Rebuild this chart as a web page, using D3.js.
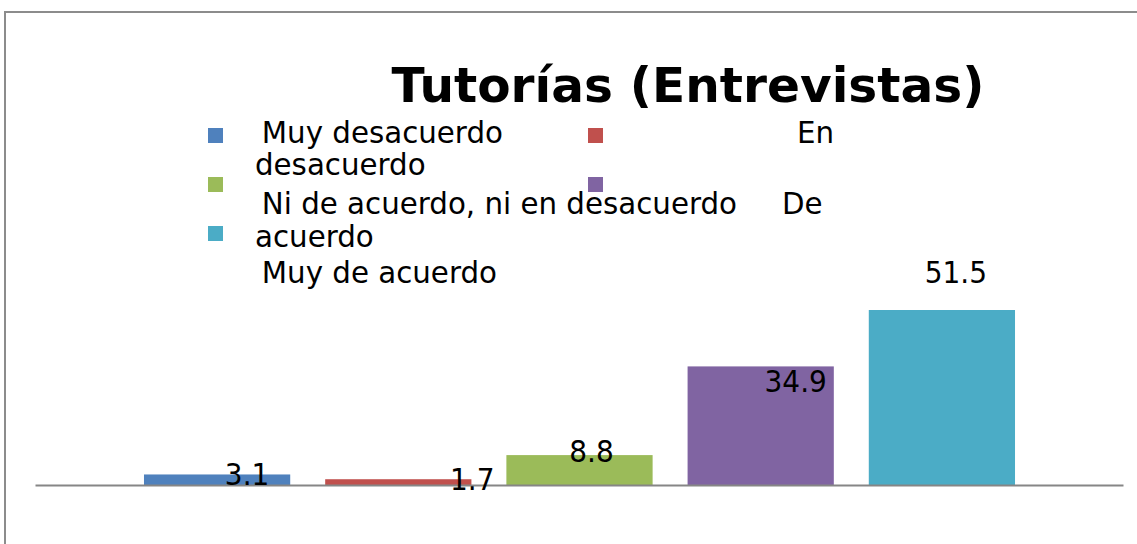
<!DOCTYPE html>
<html>
<head>
<meta charset="utf-8">
<script src="https://cdn.jsdelivr.net/npm/d3@7"></script>
<style>
  body { margin: 0; background: #fff; }
  text { font-family: "DejaVu Sans", sans-serif; }
</style>
</head>
<body>
<svg id="viewer" width="1137" height="544"></svg>
<script>
var categories = ["Muy desacuerdo", "En desacuerdo", "Ni de acuerdo, ni en desacuerdo", "De acuerdo", "Muy de acuerdo"];
var values = [3.1, 1.7, 8.8, 34.9, 51.5];
var colors = ["#4f81bd", "#c0504d", "#9bbb59", "#8064a2", "#4bacc6"];
var title = "Tutorías (Entrevistas)";

// the legend text wraps oddly in the original, keep its lines as they appear
var legendLines = [
    [" Muy desacuerdo", "En"],
    ["desacuerdo", ""],
    [" Ni de acuerdo, ni en desacuerdo", "De"],
    ["acuerdo", ""],
    [" Muy de acuerdo", ""]
];

var svg = d3.select('#viewer');
var baseY = 485;

// outer frame (only top and left edges visible)
svg.append('rect')
    .attr('x', 5).attr('y', 12)
    .attr('width', 1160).attr('height', 560)
    .attr('fill', 'none')
    .attr('stroke', '#8c8c8c')
    .attr('stroke-width', 2);

svg.append('text')
    .attr('x', 688).attr('y', 102)
    .attr('text-anchor', 'middle')
    .attr('font-size', 48.6)
    .attr('font-weight', 'bold')
    .text(title);

var x = d3.scaleBand()
    .domain(categories)
    .range([126.5, 1032.5])
    .paddingInner(0.193)
    .paddingOuter(0.0965);

var y = d3.scaleLinear()
    .domain([0, 51.5])
    .range([baseY, 310]);

svg.selectAll('rect.bar')
    .data(values)
    .enter()
    .append('rect')
    .attr('class', 'bar')
    .attr('x', (d, i) => x(categories[i]))
    .attr('y', d => y(d))
    .attr('width', x.bandwidth())
    .attr('height', d => baseY - y(d))
    .attr('fill', (d, i) => colors[i]);

// axis line
var axisX = d3.scaleLinear().domain([0, 1]).range([35, 1123]);
svg.append('g')
    .attr('transform', `translate(0 ${baseY})`)
    .call(d3.axisBottom(axisX).ticks(0).tickSize(0).tickFormat(''))
    .call(g => g.select('.domain').attr('stroke', '#868686').attr('stroke-width', 2));

// label nudges, relative to bar centre and bar top
var labelNudge = [[30, 11], [74, 11], [12, 7], [35, 26], [14, -27]];

svg.selectAll('text.lbl')
    .data(values)
    .enter()
    .append('text')
    .attr('class', 'lbl')
    .attr('transform', (d, i) => {
        let lx = x(categories[i]) + x.bandwidth() / 2 + labelNudge[i][0];
        let ly = y(d) + labelNudge[i][1];
        return `translate(${lx} ${ly}) scale(1 1.1)`;
    })
    .attr('text-anchor', 'middle')
    .attr('font-size', 28)
    .text(d => d);

// legend markers in two columns
var legend = svg.append('g');
legend.selectAll('rect')
    .data(categories)
    .enter()
    .append('rect')
    .attr('x', (d, i) => i % 2 ? 588 : 208)
    .attr('y', (d, i) => 128 + Math.floor(i / 2) * 49)
    .attr('width', 15)
    .attr('height', 15)
    .attr('fill', (d, i) => colors[i]);

var lineY = [143, 175, 214, 247, 283];
var leftX = [252.5, 255, 252.5, 255, 252.5];
var rightX = [797, 0, 782, 0, 0];

legendLines.forEach((l, i) => {
    legend.append('text')
        .attr('x', leftX[i]).attr('y', lineY[i])
        .attr('font-size', 29.3)
        .attr('xml:space', 'preserve')
        .style('white-space', 'pre')
        .text(l[0]);
    if (l[1]) {
        legend.append('text')
            .attr('x', rightX[i]).attr('y', lineY[i])
            .attr('font-size', 29.3)
            .text(l[1]);
    }
});
</script>
</body>
</html>
